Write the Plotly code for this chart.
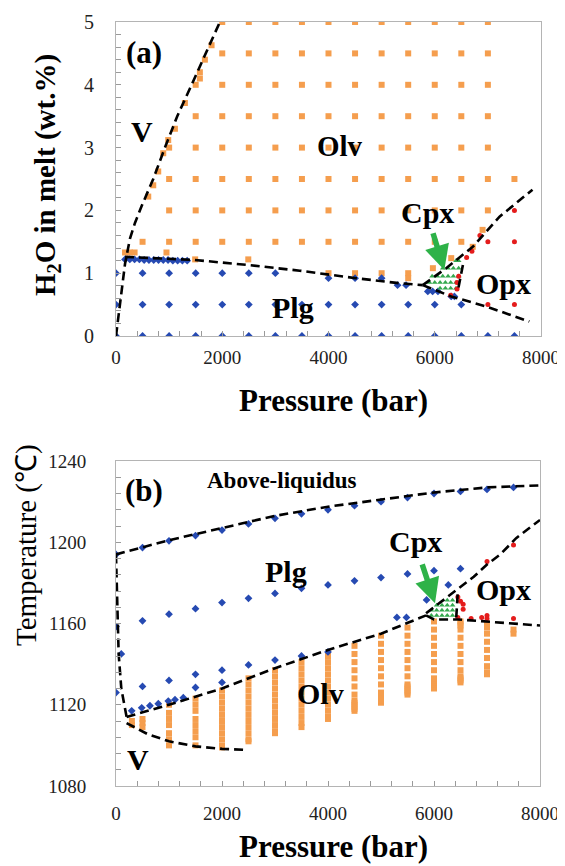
import plotly.graph_objects as go

# ---------------- Panel (a) data: H2O in melt vs Pressure ----------------
# Plagioclase (blue diamonds): grid rows + boundary points
plg_a_rows_H = [0.0, 0.5, 1.0]
plg_a_rows_P = [
    [0, 500, 1000, 1500, 2000, 2500, 3000, 3500, 4000, 4500, 5000, 5500, 6000, 6500, 7000, 7500],
    [0, 500, 1000, 1500, 2000, 2500, 3000, 3500, 4000, 4500, 5000, 5500, 6000, 6500],
    [0, 500, 1000, 1500, 2000, 2500, 3000],
]
plg_a_extra_P = [170, 260, 350, 440, 530, 620, 710, 800, 890, 980, 1070, 1160, 1250, 1340,
                 4000, 4500, 5000, 5300, 5460, 5870, 5960, 6060, 6310, 6370]
plg_a_extra_H = [1.22, 1.22, 1.22, 1.22, 1.21, 1.21, 1.21, 1.21, 1.21, 1.21, 1.20, 1.20, 1.20, 1.20,
                 0.92, 0.92, 0.92, 0.81, 0.81, 0.71, 0.71, 0.71, 0.63, 0.63]

# Olivine (orange squares)
olv_a_rows_H = [1.0, 1.5, 2.0, 2.5, 3.0, 3.5, 4.0, 4.5, 5.0]
olv_a_rows_P = [
    [4000, 4500, 5000, 5500],
    [500, 1000, 1500, 2000, 2500, 3000, 3500, 4000, 4500, 5000, 5500, 6000, 6500],
    [1000, 1500, 2000, 2500, 3000, 3500, 4000, 4500, 5000, 5500, 6000, 6500, 7000],
    [1000, 1500, 2000, 2500, 3000, 3500, 4000, 4500, 5000, 5500, 6000, 6500, 7000, 7500],
    [1000, 1500, 2000, 2500, 3000, 3500, 4000, 4500, 5000, 5500, 6000, 6500, 7000],
    [1500, 2000, 2500, 3000, 3500, 4000, 4500, 5000, 5500, 6000, 6500, 7000],
    [1500, 2000, 2500, 3000, 3500, 4000, 4500, 5000, 5500, 6000, 6500, 7000],
    [2000, 2500, 3000, 3500, 4000, 4500, 5000, 5500, 6000, 6500, 7000],
    [2000, 2500, 3000, 3500, 4000, 4500, 5000, 5500, 6000, 6500, 7000],
]
olv_a_extra_P = [170, 260, 350, 950, 1490, 2490, 607, 701, 795, 889, 983, 1109, 1297, 1579, 1579,
                 1673, 1799, 5500, 5965, 6310, 6715, 6900]
olv_a_extra_H = [1.33, 1.33, 1.33, 1.33, 1.22, 1.22, 2.22, 2.40, 2.62, 2.91, 3.12, 3.30, 3.71, 4.10, 4.20,
                 4.40, 4.63, 0.92, 1.08, 1.24, 1.42, 1.69]

# Vapour-saturated (open light-blue circles)
v_a_P = [0, 0, 500, 0, 500, 500, 1000, 0, 500, 1000, 0, 1000, 1500, 1000, 1500,
         75, 90, 170, 263, 295, 389, 389, 451, 483, 577, 827, 983, 1077, 1203, 1391, 1517, 1893]
v_a_H = [1.5, 2.5, 2.5, 3.0, 3.0, 3.5, 3.5, 4.0, 4.0, 4.0, 4.5, 4.5, 4.5, 5.0, 5.0,
         0.94, 0.89, 1.32, 1.64, 2.02, 2.02, 1.90, 2.32, 2.25, 2.32, 2.83, 3.23, 3.41, 3.60, 3.92, 4.12, 4.92]

# Clinopyroxene (green triangles)
cpx_a_P = [6400, 6450, 6150, 6250, 6350, 6450, 5950, 6050, 6150, 6250, 6350, 6450,
           5900, 6000, 6100, 6200, 6300, 6400, 6100, 6200, 6300, 6400]
cpx_a_H = [1.20, 1.20, 1.08, 1.08, 1.08, 1.08, 0.95, 0.95, 0.95, 0.95, 0.95, 0.95,
           0.85, 0.85, 0.85, 0.85, 0.85, 0.85, 0.76, 0.76, 0.76, 0.76]

# Orthopyroxene (red dots)
opx_a_P = [7000, 7500, 7000, 7500, 7500, 6450, 6420, 6420, 6300, 6600, 6700, 6850]
opx_a_H = [0.50, 0.50, 1.50, 1.50, 2.00, 0.95, 0.85, 0.75, 0.65, 1.25, 1.35, 1.60]

# Phase boundaries (dashed) panel a
bnd_a_v_P = [0, 170, 263, 357, 483, 589, 701, 921, 1153, 1423, 1692, 1955]
bnd_a_v_H = [0, 1.15, 1.55, 1.80, 2.07, 2.28, 2.50, 3.00, 3.50, 4.00, 4.50, 5.00]
bnd_a_plg_P = [170, 607, 1485, 2490, 3460, 4520, 5340, 5775]
bnd_a_plg_H = [1.26, 1.24, 1.21, 1.13, 1.04, 0.92, 0.84, 0.81]
bnd_a_up_P = [5775, 6215, 6715, 7220, 7840]
bnd_a_up_H = [0.81, 1.08, 1.42, 1.90, 2.33]
bnd_a_low_P = [5775, 6310, 6970, 7780]
bnd_a_low_H = [0.81, 0.63, 0.47, 0.23]
bnd_a_cpx_P = [6530, 6435]
bnd_a_cpx_H = [1.13, 0.72]

# ---------------- Panel (b) data: Temperature vs Pressure ----------------
liq_b_P = [0, 500, 1000, 1500, 2000, 2500, 3000, 3500, 4000, 4500, 5000, 5500, 6000, 6500, 7000, 7500]
liq_b_T = [1194, 1197.4, 1200.7, 1203.3, 1206, 1209, 1211.8, 1214, 1216, 1218, 1220, 1222, 1224, 1225, 1226, 1227]
plg_b_P = [0, 500, 1000, 1500, 2000, 2500, 3000, 3500, 4000, 4500, 5000, 5500, 6000, 6500,
           100, 0, 500, 1000, 1500, 1500, 2000, 2000, 2500, 3000, 3500, 4000,
           296, 485, 640, 798, 987, 1113, 1270,
           5300, 5480, 5860, 6270]
plg_b_T = [1158.5, 1161.3, 1164.6, 1167.3, 1170.3, 1172.4, 1174.8, 1177.3, 1179, 1181, 1182.6, 1184.4, 1186, 1187,
           1145, 1126, 1129, 1132, 1135, 1128.5, 1137, 1131, 1139.6, 1142, 1144, 1146,
           1117, 1118.5, 1119.5, 1120.5, 1121.8, 1122.5, 1123.5,
           1163, 1163, 1171.6, 1179]

olv_b_P = [300, 500, 1000, 1500, 2000, 2500, 3000, 3500, 4000, 4500, 5000, 5500, 6000, 6500, 7000, 7500]
olv_b_T = [
    [1110, 1112],
    [1109, 1111, 1113],
    [1100, 1103, 1106, 1110, 1113, 1116, 1120],
    [1100, 1104, 1107, 1110, 1113, 1117, 1120, 1123],
    [1099, 1100, 1103, 1106, 1109, 1112, 1115, 1118, 1121, 1124, 1127],
    [1102, 1103, 1106, 1109, 1112, 1115, 1118, 1121, 1124, 1127, 1130, 1133],
    [1106, 1107, 1110, 1113, 1116, 1119, 1122, 1125, 1128, 1131, 1134, 1137],
    [1109, 1111, 1114, 1117, 1120, 1123, 1126, 1129, 1132, 1135, 1138, 1141],
    [1113, 1114, 1117, 1120, 1123, 1126, 1129, 1132, 1135, 1138, 1141, 1144],
    [1117, 1118, 1119, 1120, 1121, 1122, 1125, 1129, 1133, 1137, 1141, 1145, 1149],
    [1121, 1122, 1123, 1124, 1125, 1126, 1130, 1134, 1138, 1142, 1146, 1150, 1154],
    [1125, 1126, 1127, 1128, 1129, 1130, 1134, 1138, 1142, 1146, 1150, 1154, 1158],
    [1128, 1129, 1130, 1131, 1132, 1133, 1137, 1141, 1145, 1149, 1153, 1157, 1161],
    [1131, 1132, 1133, 1134, 1137, 1141, 1145, 1149, 1153, 1157, 1159, 1160, 1161],
    [1135, 1136, 1139, 1143, 1147, 1151, 1155, 1158, 1159, 1160],
    [1155, 1157],
]
v_b_P = [0, 0, 0, 0, 170, 200, 300, 300, 500, 500, 500, 500, 1000, 1000, 1000, 1000, 1500]
v_b_T = [1099, 1097, 1094, 1088, 1116, 1110, 1108, 1105, 1106, 1104, 1099, 1095, 1098, 1096, 1093.5, 1091, 1097]
cpx_b_P = [5950, 6050, 6150, 6250, 6350, 5950, 6050, 6150, 6250, 6350, 6050, 6150, 6250, 6350, 6250, 6350]
cpx_b_T = [1164, 1164, 1164, 1164, 1164, 1166.5, 1166.5, 1166.5, 1166.5, 1166.5,
           1169, 1169, 1169, 1169, 1171.5, 1171.5]
opx_b_P = [7000, 7500, 6450, 6500, 6550, 6550, 6700, 6900, 7000, 7000, 7500, 6450]
opx_b_T = [1190.5, 1198.7, 1173, 1171, 1169.5, 1167, 1162.5, 1163, 1164, 1162.5, 1162.5, 1163]

bnd_b_liq_P = [0, 1000, 2000, 3000, 4000, 5000, 6000, 7000, 8000]
bnd_b_liq_T = [1194, 1201, 1207, 1213, 1217.5, 1221, 1224.5, 1227, 1228]
bnd_b_left_P = [0, 20, 50, 100, 200]
bnd_b_left_T = [1194, 1170, 1145, 1128, 1114]
bnd_b_olv_P = [200, 1000, 2000, 3000, 4000, 5000, 5850]
bnd_b_olv_T = [1114, 1120, 1128, 1138, 1147, 1155, 1164]
bnd_b_up_P = [5850, 6250, 6450, 6750, 7000, 7250, 7550, 8000]
bnd_b_up_T = [1165, 1173, 1177, 1183, 1189, 1194, 1202, 1211]
bnd_b_cpx_P = [6420, 6450]
bnd_b_cpx_T = [1163, 1176]
bnd_b_low_P = [5850, 6000, 6450, 7000, 7500, 8000]
bnd_b_low_T = [1164, 1162, 1162, 1161, 1160, 1159]
bnd_b_v_P = [200, 600, 1000, 1500, 2000, 2450]
bnd_b_v_T = [1111, 1105.5, 1102, 1099.5, 1098.3, 1097.8]

# tick values
x_ticks = [0, 2000, 4000, 6000, 8000]
ya_ticks = [0, 1, 2, 3, 4, 5]
yb_ticks = [1080, 1120, 1160, 1200, 1240]

# ---------------- styles ----------------
SERIF = "Liberation Serif"
C_BLUE = "rgb(38,74,178)"
C_ORANGE = "rgb(245,158,78)"
C_LBLUE = "rgb(110,178,208)"
C_RED = "rgb(228,28,28)"
C_GREEN = "rgb(52,168,78)"
C_ARROW = "rgb(46,178,72)"

fig = go.Figure()


def flat_rows(rows_key, rows_val):
    """Expand row lists into (pressure, value) point lists."""
    ps, vs = [], []
    for k, vals in zip(rows_key, rows_val):
        for v in vals:
            ps.append(v)
            vs.append(k)
    return ps, vs


def add_pts(x, y, sym, color, size, xa, ya, open_=False):
    if open_:
        marker = dict(symbol=sym, size=size, color="rgba(0,0,0,0)",
                      line=dict(color=color, width=1.2))
    else:
        marker = dict(symbol=sym, size=size, color=color, line=dict(width=0))
    fig.add_trace(go.Scatter(x=x, y=y, mode="markers", marker=marker,
                             xaxis=xa, yaxis=ya, showlegend=False, hoverinfo="skip"))


def add_line(x, y, xa, ya):
    fig.add_trace(go.Scatter(x=x, y=y, mode="lines",
                             line=dict(color="black", width=2.6, dash="9px,5px"),
                             xaxis=xa, yaxis=ya, showlegend=False, hoverinfo="skip"))


# Panel a markers
plg_P, plg_H = flat_rows(plg_a_rows_H, plg_a_rows_P)
olv_P, olv_H = flat_rows(olv_a_rows_H, olv_a_rows_P)
add_pts(olv_P + olv_a_extra_P, olv_H + olv_a_extra_H, "square", C_ORANGE, 6, "x", "y")
add_pts(v_a_P, v_a_H, "circle-open", C_LBLUE, 6, "x", "y", open_=True)
add_pts(plg_P + plg_a_extra_P, plg_H + plg_a_extra_H, "diamond", C_BLUE, 6, "x", "y")
add_pts(cpx_a_P, cpx_a_H, "triangle-up", C_GREEN, 5, "x", "y")
add_pts(opx_a_P, opx_a_H, "circle", C_RED, 5, "x", "y")
for bx, by in [(bnd_a_v_P, bnd_a_v_H), (bnd_a_plg_P, bnd_a_plg_H), (bnd_a_up_P, bnd_a_up_H),
               (bnd_a_low_P, bnd_a_low_H), (bnd_a_cpx_P, bnd_a_cpx_H)]:
    add_line(bx, by, "x", "y")

# Panel b markers
ob_x, ob_y = [], []
for p, temps in zip(olv_b_P, olv_b_T):
    for t in temps:
        ob_x.append(p)
        ob_y.append(t)
add_pts(ob_x, ob_y, "square", C_ORANGE, 6, "x2", "y2")
add_pts(v_b_P, v_b_T, "circle-open", C_LBLUE, 6, "x2", "y2", open_=True)
add_pts(liq_b_P + plg_b_P, liq_b_T + plg_b_T, "diamond", C_BLUE, 6, "x2", "y2")
add_pts(cpx_b_P, cpx_b_T, "triangle-up", C_GREEN, 5, "x2", "y2")
add_pts(opx_b_P, opx_b_T, "circle", C_RED, 5, "x2", "y2")
for bx, by in [(bnd_b_liq_P, bnd_b_liq_T), (bnd_b_left_P, bnd_b_left_T), (bnd_b_olv_P, bnd_b_olv_T),
               (bnd_b_up_P, bnd_b_up_T), (bnd_b_cpx_P, bnd_b_cpx_T), (bnd_b_low_P, bnd_b_low_T),
               (bnd_b_v_P, bnd_b_v_T)]:
    add_line(bx, by, "x2", "y2")

# The page places the figure 8px in from the top-left corner.
OFF = 8
W, H = 565, 866 - OFF


def fx(px):
    return (px - OFF) / W


def fy(py):
    return 1 - (py - OFF) / H


axis_common = dict(showline=True, mirror=True, linecolor="#b4b4b4", linewidth=1,
                   showgrid=False, zeroline=False, ticks="inside", ticklen=5,
                   tickcolor="#9a9a9a", tickwidth=1, automargin=False)

fig.update_layout(
    width=W, height=H, margin=dict(l=0, r=0, t=0, b=0),
    paper_bgcolor="white", plot_bgcolor="white",
    xaxis=dict(domain=[fx(116), fx(541)], range=[0, 8000], tickvals=x_ticks,
               minor=dict(dtick=400, ticks="inside", ticklen=5, tickcolor="#9a9a9a"),
               anchor="y", ticklabelstandoff=4,
               tickfont=dict(family=SERIF, size=19, color="#222"), **axis_common),
    yaxis=dict(domain=[fy(336), fy(22)], range=[0, 5], tickvals=ya_ticks,
               minor=dict(dtick=0.2, ticks="inside", ticklen=5, tickcolor="#9a9a9a"),
               anchor="x", ticklabelstandoff=17,
               tickfont=dict(family=SERIF, size=20, color="#222"), **axis_common),
    xaxis2=dict(domain=[fx(116), fx(540)], range=[0, 8000], tickvals=x_ticks,
                minor=dict(dtick=400, ticks="inside", ticklen=5, tickcolor="#9a9a9a"),
                anchor="y2", ticklabelstandoff=10,
                tickfont=dict(family=SERIF, size=19, color="#222"), **axis_common),
    yaxis2=dict(domain=[fy(786), fy(461)], range=[1080, 1240], tickvals=yb_ticks,
                minor=dict(dtick=8, ticks="inside", ticklen=5, tickcolor="#9a9a9a"),
                anchor="x2", ticklabelstandoff=25,
                tickfont=dict(family=SERIF, size=19, color="#222"), **axis_common),
)

ann = []


def label(txt, x, y, xr, yr, size=30, bold=True):
    ann.append(dict(text=f"<b>{txt}</b>" if bold else txt, x=x, y=y, xref=xr, yref=yr,
                    showarrow=False, font=dict(family=SERIF, size=size, color="black"),
                    xanchor="center", yanchor="middle"))


# panel a labels
label("(a)", 520, 4.52, "x", "y", 31)
label("V", 490, 3.26, "x", "y", 30)
label("Olv", 4210, 3.03, "x", "y", 29)
label("Cpx", 5860, 1.97, "x", "y", 30)
label("Opx", 7300, 0.84, "x", "y", 30)
label("Plg", 3330, 0.46, "x", "y", 30)
# panel b labels
label("(b)", 530, 1225.3, "x2", "y2", 31)
label("Above-liquidus", 3140, 1230.2, "x2", "y2", 23)
label("Plg", 3210, 1185.4, "x2", "y2", 30)
label("Cpx", 5660, 1200.2, "x2", "y2", 30)
label("Opx", 7320, 1176.6, "x2", "y2", 30)
label("Olv", 3850, 1125.3, "x2", "y2", 30)
label("V", 420, 1093, "x2", "y2", 30)

# axis titles
title_common = dict(xref="paper", yref="paper", showarrow=False,
                    xanchor="center", yanchor="middle")
ann.append(dict(text="<b>Pressure (bar)</b>", x=fx(333), y=fy(400),
                font=dict(family=SERIF, size=31, color="black"), **title_common))
ann.append(dict(text="<b>Pressure (bar)</b>", x=fx(333), y=fy(846),
                font=dict(family=SERIF, size=31, color="black"), **title_common))
ann.append(dict(text="<b>H<sub>2</sub>O in melt (wt.%)</b>", x=fx(47), y=fy(175),
                textangle=-90, font=dict(family=SERIF, size=29, color="black"), **title_common))
ann.append(dict(text="Temperature (\u2103)", x=fx(26), y=fy(545),
                textangle=-90, font=dict(family=SERIF, size=29, color="black"), **title_common))

# green arrows
ann.append(dict(x=6180, y=1.05, ax=5959, ay=1.66, xref="x", yref="y", axref="x", ayref="y",
                showarrow=True, arrowhead=2, arrowsize=0.9, arrowwidth=5.5, arrowcolor=C_ARROW, text=""))
ann.append(dict(x=6019, y=1170, ax=5768, ay=1189.9, xref="x2", yref="y2", axref="x2", ayref="y2",
                showarrow=True, arrowhead=2, arrowsize=0.9, arrowwidth=5.5, arrowcolor=C_ARROW, text=""))

fig.update_layout(annotations=ann)
fig.write_html("out.html")
